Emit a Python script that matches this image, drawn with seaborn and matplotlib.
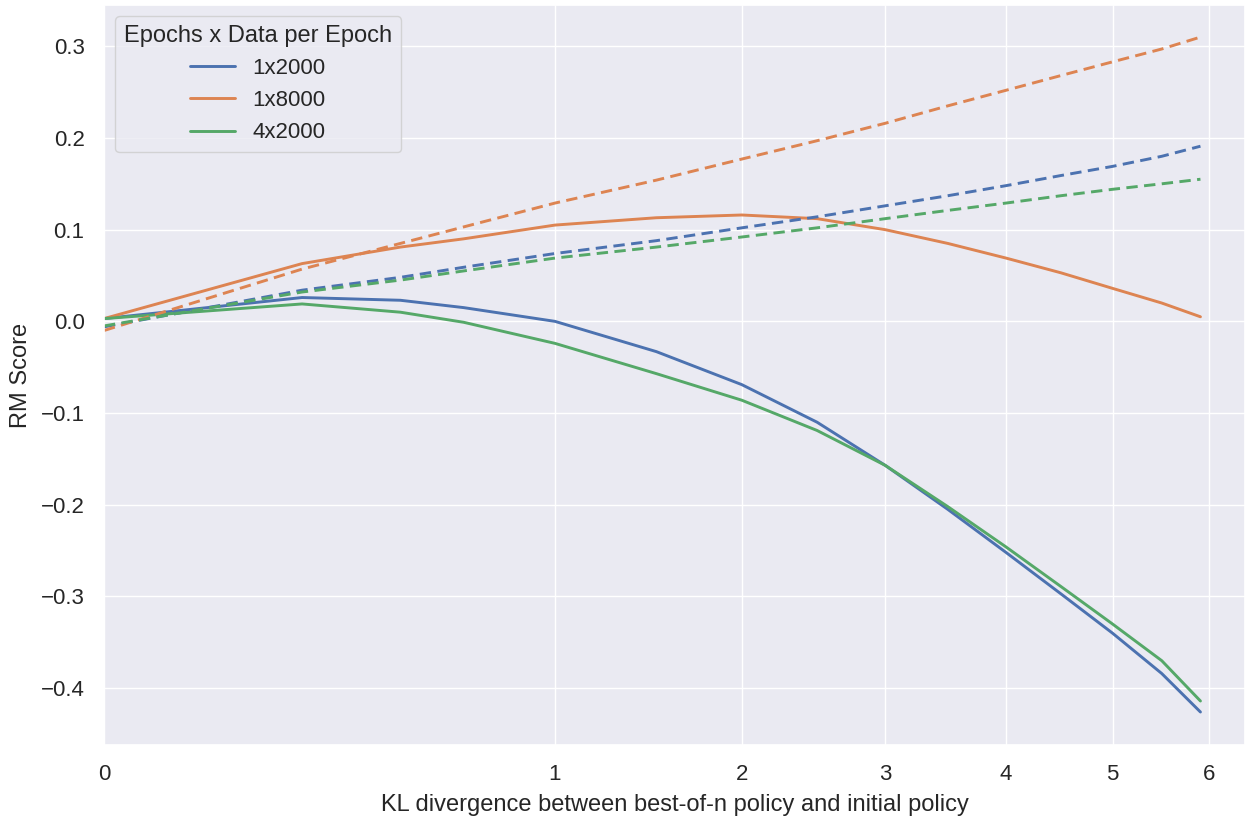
import numpy as np
import pandas as pd
import matplotlib
matplotlib.use("Agg")
import matplotlib.pyplot as plt
import seaborn as sns

# KL divergence of the best-of-n policy at each evaluated point
kl = [0.0, 0.193, 0.432, 0.636, 1.0, 1.5, 2.0, 2.5, 3.0, 3.5, 4.0, 4.5, 5.0, 5.5, 5.91]

series_names = ["1x2000", "1x8000", "4x2000"]

# Gold RM score (solid lines)
gold_1x2000 = [0.003, 0.026, 0.023, 0.015, 0.000, -0.033, -0.069, -0.110, -0.157,
               -0.205, -0.252, -0.297, -0.340, -0.384, -0.426]
gold_1x8000 = [0.003, 0.063, 0.081, 0.090, 0.105, 0.113, 0.116, 0.112, 0.100,
               0.085, 0.069, 0.053, 0.036, 0.020, 0.005]
gold_4x2000 = [0.003, 0.019, 0.010, -0.001, -0.024, -0.057, -0.086, -0.119, -0.157,
               -0.202, -0.246, -0.289, -0.330, -0.370, -0.414]

# Proxy RM score (dashed lines)
proxy_1x2000 = [-0.006, 0.034, 0.048, 0.059, 0.074, 0.088, 0.102, 0.114, 0.126,
                0.137, 0.148, 0.159, 0.169, 0.180, 0.191]
proxy_1x8000 = [-0.010, 0.057, 0.085, 0.103, 0.129, 0.154, 0.177, 0.197, 0.216,
                0.235, 0.252, 0.268, 0.283, 0.297, 0.310]
proxy_4x2000 = [-0.005, 0.032, 0.045, 0.055, 0.069, 0.081, 0.092, 0.102, 0.112,
                0.121, 0.129, 0.137, 0.144, 0.150, 0.155]

x_ticks = [0, 1, 2, 3, 4, 5, 6]
y_ticks = [-0.4, -0.3, -0.2, -0.1, 0.0, 0.1, 0.2, 0.3]

gold = pd.DataFrame({
    "kl": kl * 3,
    "score": gold_1x2000 + gold_1x8000 + gold_4x2000,
    "run": [n for n in series_names for _ in kl],
})
proxy = pd.DataFrame({
    "kl": kl * 3,
    "score": proxy_1x2000 + proxy_1x8000 + proxy_4x2000,
    "run": [n for n in series_names for _ in kl],
})

sns.set_theme(style="darkgrid")
plt.rcParams["font.family"] = ["Liberation Sans", "DejaVu Sans"]
palette = sns.color_palette("deep", 3)

fig = plt.figure(figsize=(12.48, 8.18), dpi=100)
ax = fig.add_axes([0.0833, 0.0892, 0.9143, 0.9047])

sns.lineplot(data=gold, x="kl", y="score", hue="run", hue_order=series_names,
             palette=palette, linewidth=2.1, ax=ax)
sns.lineplot(data=proxy, x="kl", y="score", hue="run", hue_order=series_names,
             palette=palette, linewidth=2.1, linestyle=(0, (3.9, 2.2)), dashes=False,
             legend=False, ax=ax)

# square-root scale on the KL axis
ax.set_xscale("function", functions=(lambda v: np.sqrt(np.clip(v, 0, None)),
                                     lambda v: np.square(v)))
ax.set_xlim(0, 6.40)
ax.set_ylim(-0.462, 0.345)
ax.set_xticks(x_ticks)
ax.set_xticklabels([str(t) for t in x_ticks])
ax.set_yticks(y_ticks)
ax.set_yticklabels(["\u2212" + f"{abs(t):.1f}" if t < 0 else f"{t:.1f}" for t in y_ticks])
ax.tick_params(labelsize=16, pad=8)

ax.set_xlabel("KL divergence between best-of-n policy and initial policy", fontsize=17,
              labelpad=6)
ax.set_ylabel("RM Score", fontsize=17, labelpad=6)

leg = ax.legend(title="Epochs x Data per Epoch", loc="upper left", fontsize=16,
                title_fontsize=17)

fig.savefig("out.png", dpi=100)
